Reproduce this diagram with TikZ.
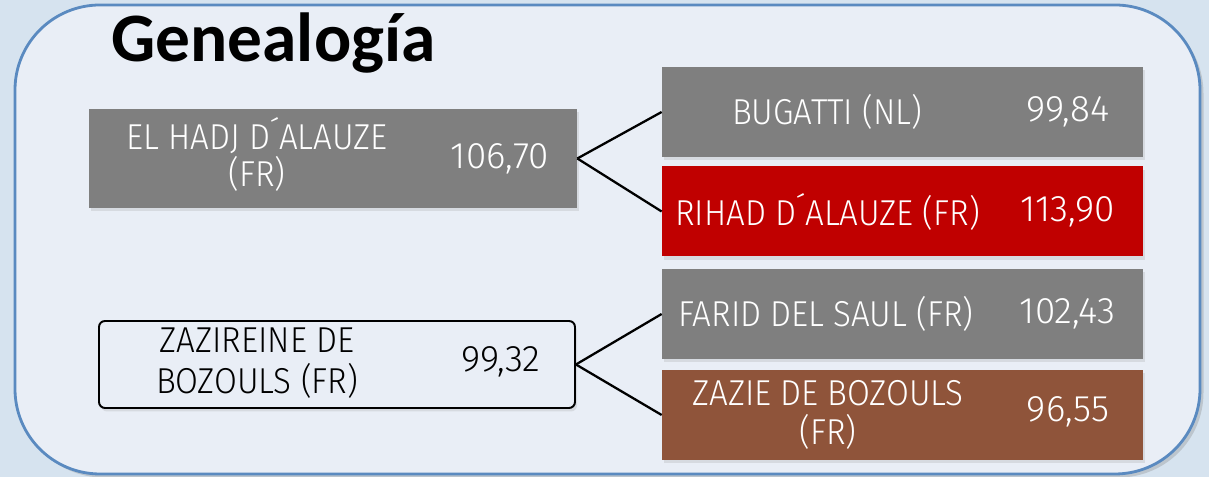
\documentclass[tikz,border=0pt]{standalone}
\usepackage{fontspec}
\usepackage{tikz}
\usetikzlibrary{shadows}
\setmainfont{Carlito}
\newfontfamily\boxfont{Fira Sans Light}[FakeStretch=0.92]
\newfontfamily\valfont{Fira Sans Light}
\definecolor{sky}{RGB}{214,227,239}
\definecolor{panel}{RGB}{233,238,246}
\definecolor{steel}{RGB}{90,138,192}
\definecolor{boxgray}{RGB}{127,127,127}
\definecolor{crimson}{RGB}{192,0,0}
\definecolor{chestnut}{RGB}{143,84,58}

\begin{document}
\begin{tikzpicture}[
    horsebox/.style={rectangle, inner sep=0pt,
        drop shadow={opacity=0.18, shadow xshift=0.04cm, shadow yshift=-0.07cm}},
    sire/.style={horsebox, minimum width=9.62cm, minimum height=1.8cm},
    nametext/.style={text=white, align=center, inner sep=0pt,
        font=\boxfont\fontsize{20.5}{21}\selectfont},
    valtext/.style={text=white, inner sep=0pt,
        font=\valfont\fontsize{21}{22}\selectfont},
    link/.style={line width=1.3pt, black}
]
    \useasboundingbox (0,0) rectangle (24.18,9.54);
    \fill[sky] (0,0) rectangle (24.18,9.54);

    % panel
    \draw[steel, line width=1.6pt, fill=panel, rounded corners=1.7cm,
        drop shadow={opacity=0.3, shadow xshift=0.07cm, shadow yshift=-0.07cm}]
        (0.3,0.06) rectangle (24.0,9.44);

    \node[font=\bfseries\fontsize{39.5}{40}\selectfont, anchor=base west, inner sep=0pt] (title)
        at (2.22,8.3) {Genealogía};

    % (a) El Hadj d'Alauze and his parents
    \node[horsebox, fill=boxgray, minimum width=9.76cm, minimum height=1.98cm] (hadj) at (6.66,6.37) {};
    \node[nametext] (hadjname) at (5.14,6.45) {EL HADJ D´ALAUZE\\(FR)};
    \node[valtext] (hadjval) at (10.0,6.37) {106,70};

    \node[sire, fill=boxgray] (bugatti) at (18.05,7.30) {};
    \node[nametext] (bugattiname) at (16.54,7.30) {BUGATTI (NL)};
    \node[valtext] (bugattival) at (21.36,7.30) {99,84};

    \node[sire, fill=crimson] (rihad) at (18.05,5.31) {};
    \node[nametext] (rihadname) at (16.55,5.31) {RIHAD D´ALAUZE (FR)};
    \node[valtext] (rihadval) at (21.35,5.31) {113,90};

    \draw[link] (hadj.east) -- (bugatti.west);
    \draw[link] (hadj.east) -- (rihad.west);

    % (b) Zazireine de Bozouls and her parents
    \node[horsebox, draw=black, line width=1.1pt, fill=panel, rounded corners=0.12cm,
        minimum width=9.52cm, minimum height=1.74cm] (zazireine) at (6.74,2.25) {};
    \node[nametext, text=black, font=\boxfont\fontsize{20.5}{23}\selectfont] (zazireinename) at (5.14,2.28) {ZAZIREINE DE\\BOZOULS (FR)};
    \node[valtext, text=black] (zazireineval) at (10.02,2.3) {99,32};

    \node[sire, fill=boxgray] (farid) at (18.05,3.26) {};
    \node[nametext] (faridname) at (16.52,3.26) {FARID DEL SAUL (FR)};
    \node[valtext] (faridval) at (21.35,3.26) {102,43};

    \node[sire, fill=chestnut] (zazie) at (18.05,1.24) {};
    \node[nametext, font=\boxfont\fontsize{20.5}{22.5}\selectfont] (zaziename) at (16.56,1.24) {ZAZIE DE BOZOULS\\(FR)};
    \node[valtext] (zazieval) at (21.36,1.30) {96,55};

    \draw[link] (zazireine.east) -- (farid.west);
    \draw[link] (zazireine.east) -- (zazie.west);

\end{tikzpicture}
\end{document}
